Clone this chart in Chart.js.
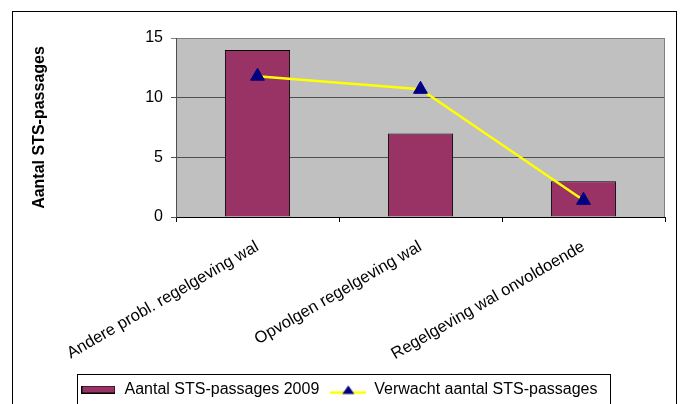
<!DOCTYPE html>
<html>
<head>
<meta charset="utf-8">
<script src="https://cdn.jsdelivr.net/npm/chart.js@4.4.1/dist/chart.umd.min.js"></script>
<style>
  html, body { margin: 0; padding: 0; background: #fff; }
  #wrap { width: 680px; height: 404px; }
</style>
</head>
<body>
<div id="wrap"><canvas id="myChart" width="680" height="404"></canvas></div>
<script>
const categories = ['Andere probl. regelgeving wal', 'Opvolgen regelgeving wal', 'Regelgeving wal onvoldoende'];
const passages2009 = [14, 7, 3];
const verwachtPassages = [11.8, 10.7, 1.4];
const yTickValues = [0, 5, 10, 15];
const seriesLabels = ['Aantal STS-passages 2009', 'Verwacht aantal STS-passages'];
const yTitle = 'Aantal STS-passages';

const FONT = "'Liberation Sans', Arial, sans-serif";
const padBottom = -3.5;

// legend swatches, Excel style
function barSwatch() {
  const c = document.createElement('canvas');
  c.width = 34; c.height = 8;
  const g = c.getContext('2d');
  g.fillStyle = '#993366';
  g.fillRect(0, 0, 34, 8);
  g.strokeStyle = '#000';
  g.lineWidth = 1;
  g.strokeRect(0.5, 0.5, 33, 7);
  return c;
}
function lineSwatch() {
  const c = document.createElement('canvas');
  c.width = 36; c.height = 14;
  const g = c.getContext('2d');
  g.strokeStyle = '#ffff00';
  g.lineWidth = 2.5;
  g.beginPath(); g.moveTo(0, 10); g.lineTo(36, 10); g.stroke();
  g.fillStyle = '#000080';
  g.beginPath(); g.moveTo(18, 3); g.lineTo(24, 11.5); g.lineTo(12, 11.5); g.closePath(); g.fill();
  return c;
}

const frame = {
  id: 'frame',
  beforeDraw(chart) {
    const ctx = chart.ctx, a = chart.chartArea;
    ctx.save();
    ctx.fillStyle = '#fff';
    ctx.fillRect(0, 0, chart.width, chart.height);
    ctx.strokeStyle = '#000';
    ctx.lineWidth = 1;
    ctx.strokeRect(12.5, 11.5, 664, 400);
    ctx.fillStyle = '#c0c0c0';
    ctx.fillRect(a.left, a.top, a.right - a.left, a.bottom - a.top);
    ctx.restore();
  },
  afterDraw(chart) {
    const ctx = chart.ctx, a = chart.chartArea;
    ctx.save();
    ctx.strokeStyle = '#808080';
    ctx.lineWidth = 1;
    ctx.beginPath();
    ctx.moveTo(a.right - 0.5, a.top);
    ctx.lineTo(a.right - 0.5, a.bottom);
    ctx.stroke();
    // box round the legend
    const hb = chart.legend.legendHitBoxes;
    if (hb && hb.length) {
      const last = hb[hb.length - 1];
      const l = Math.round(hb[0].left - 3) + 0.5;
      const t = Math.round(hb[0].top - 7.5) + 0.5;
      const r = Math.round(last.left + last.width + 12) + 0.5;
      ctx.strokeStyle = '#000';
      ctx.strokeRect(l, t, r - l, 60);
    }
    ctx.restore();
  }
};

const data = {
  labels: categories,
  datasets: [
    {
      type: 'bar',
      label: seriesLabels[0],
      data: passages2009,
      backgroundColor: '#993366',
      borderColor: '#000',
      borderWidth: 1,
      barPercentage: 0.4,
      categoryPercentage: 1,
      order: 2
    },
    {
      type: 'line',
      label: seriesLabels[1],
      data: verwachtPassages,
      borderColor: '#ffff00',
      borderWidth: 2.5,
      tension: 0,
      pointStyle: 'triangle',
      pointRadius: 8,
      pointBackgroundColor: '#000080',
      pointBorderColor: '#000080',
      pointBorderWidth: 1,
      order: 1
    }
  ]
};

const config = {
  type: 'bar',
  data: data,
  plugins: [frame],
  options: {
    responsive: false,
    animation: false,
    devicePixelRatio: 1,
    layout: { padding: { left: 13, right: 15, top: 38, bottom: padBottom } },
    plugins: {
      tooltip: { enabled: false },
      legend: {
        position: 'bottom',
        labels: {
          font: { family: FONT, size: 16 },
          color: '#000',
          usePointStyle: true,
          pointStyleWidth: 36,
          padding: 11,
          generateLabels: function (chart) {
            return [
              { text: seriesLabels[0], pointStyle: barSwatch(), datasetIndex: 0, hidden: false, lineWidth: 0, fontColor: '#000' },
              { text: seriesLabels[1], pointStyle: lineSwatch(), datasetIndex: 1, hidden: false, lineWidth: 0, fontColor: '#000' }
            ];
          }
        }
      }
    },
    scales: {
      x: {
        offset: true,
        grid: { offset: true, drawOnChartArea: false, tickLength: 5, color: '#000' },
        border: { color: '#000' },
        ticks: {
          autoSkip: false,
          maxRotation: 30,
          minRotation: 30,
          padding: 15,
          color: '#000',
          font: { family: FONT, size: 16.5 }
        },
        afterFit: function (s) {
          s.height = s.chart.height - 217 - padBottom - s.chart.legend.height;
        }
      },
      y: {
        min: 0,
        max: 15,
        afterBuildTicks: function (s) {
          s.ticks = yTickValues.map(v => ({ value: v }));
        },
        grid: {
          tickLength: 5,
          color: ctx => (ctx.tick && ctx.tick.value === 15) ? '#808080' : '#505050'
        },
        border: { color: '#505050' },
        ticks: {
          padding: 8,
          color: '#000',
          font: { family: FONT, size: 16 }
        },
        title: {
          display: true,
          text: yTitle,
          color: '#000',
          font: { family: FONT, size: 16, weight: 'bold' },
          padding: { top: 17.4, bottom: 0 }
        },
        afterFit: function (s) {
          s.width = 163;
        }
      }
    }
  }
};

var myChart = new Chart(document.getElementById('myChart'), config);
</script>
</body>
</html>
